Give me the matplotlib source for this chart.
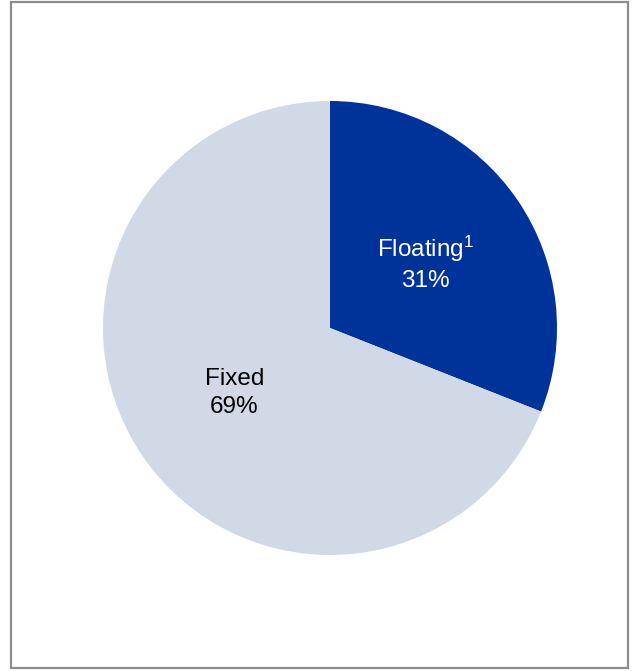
import numpy as np
import matplotlib.pyplot as plt
from matplotlib.patches import Rectangle

plt.rcParams['font.family'] = ['Liberation Sans', 'DejaVu Sans']
plt.rcParams['mathtext.fontset'] = 'custom'
plt.rcParams['mathtext.rm'] = 'Liberation Sans'
plt.rcParams['mathtext.default'] = 'regular'

categories = ['Floating$^{1}$', 'Fixed']
shares = [31, 69]
colors = ['#003399', '#D2D9E6']
text_colors = ['white', 'black']

W, H = 635, 671
fig = plt.figure(figsize=(W / 100, H / 100), dpi=100)

# frame around the chart
fig.patches.append(Rectangle((11 / W, 1 - 668 / H), 617 / W, 666 / H,
                             transform=fig.transFigure, fill=False,
                             edgecolor='#8C8C8C', linewidth=1.6))

cx, cy, r = 330, 328, 227
ax = fig.add_axes([(cx - r) / W, (H - cy - r) / H, 2 * r / W, 2 * r / H])

wedges, texts = ax.pie(
    shares, colors=colors, startangle=90, counterclock=False,
    labels=[f"{c}\n{s}%" for c, s in zip(categories, shares)],
    labeldistance=0.51, radius=1.0,
    wedgeprops=dict(linewidth=0),
)
for t, c in zip(texts, text_colors):
    t.set_horizontalalignment('center')
    t.set_verticalalignment('center')
    t.set_color(c)
    t.set_fontsize(17.5)
    t.set_linespacing(1.35)

ax.set_xlim(-1, 1)
ax.set_ylim(-1, 1)
ax.set_aspect('equal')
ax.axis('off')

fig.savefig('out.png', dpi=100)
